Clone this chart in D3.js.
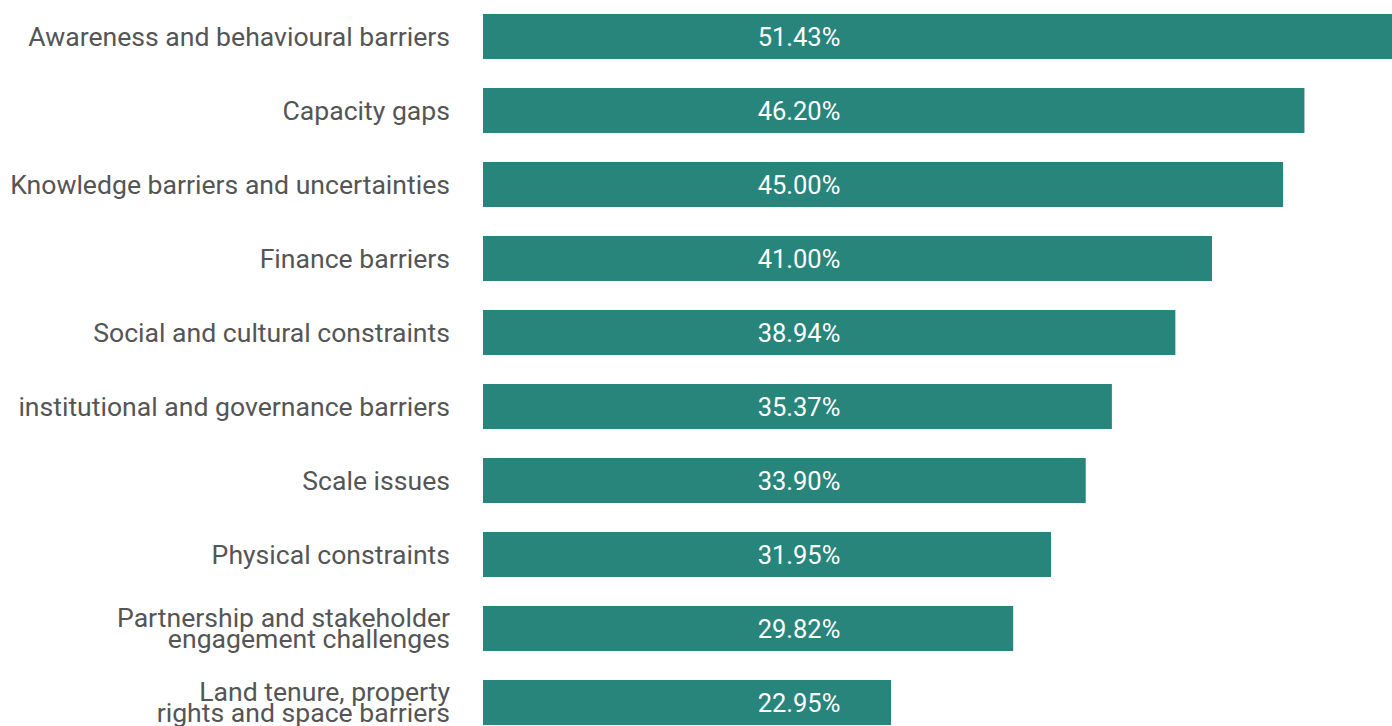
<!DOCTYPE html>
<html>
<head>
<meta charset="utf-8">
<script src="https://cdn.jsdelivr.net/npm/d3@7"></script>
<style>
  html, body { margin: 0; padding: 0; background: #fff; overflow: hidden; }
  svg { display: block; font-family: Roboto, "Noto Sans", sans-serif; }
</style>
</head>
<body>
<svg id="chart" width="1392" height="726"></svg>
<script>
// Share of respondents reporting each barrier type
const categories = [
  "Awareness and behavioural barriers",
  "Capacity gaps",
  "Knowledge barriers and uncertainties",
  "Finance barriers",
  "Social and cultural constraints",
  "institutional and governance barriers",
  "Scale issues",
  "Physical constraints",
  "Partnership and stakeholder\nengagement challenges",
  "Land tenure, property\nrights and space barriers"
];
const values = [51.43, 46.20, 45.00, 41.00, 38.94, 35.37, 33.90, 31.95, 29.82, 22.95];

const width = 1392, height = 726;
const svg = d3.select("#chart");

const x = d3.scaleLinear().domain([0, 50]).range([483, 1372]);
const y = d3.scaleBand()
  .domain(categories)
  .range([-0.5, 739.5])
  .paddingInner(29 / 74)
  .paddingOuter(29 / 148);

const rows = categories.map((c, i) => ({ cat: c, value: values[i] }));

// Bars
svg.append("g")
  .selectAll("rect")
  .data(rows)
  .join("rect")
  .attr("x", x(0))
  .attr("y", d => y(d.cat))
  .attr("width", d => x(d.value) - x(0))
  .attr("height", y.bandwidth())
  .attr("fill", "#27857b");

// Value labels, centred in a fixed column over the bars
svg.append("g")
  .selectAll("text")
  .data(rows)
  .join("text")
  .attr("x", 799)
  .attr("y", d => y(d.cat) + y.bandwidth() / 2 + 9.2)
  .attr("text-anchor", "middle")
  .attr("fill", "#ffffff")
  .attr("font-size", 25.5)
  .text(d => d.value.toFixed(2) + "%");

// Category labels, right-aligned, wrapped where needed
const labels = svg.append("g")
  .selectAll("text")
  .data(rows)
  .join("text")
  .attr("x", 450)
  .attr("y", d => y(d.cat) + y.bandwidth() / 2 + 9.2)
  .attr("text-anchor", "end")
  .attr("fill", "#555555")
  .attr("font-size", 26.6);

labels.each(function(d) {
  const lines = d.cat.split("\n");
  const lh = 21.3;
  const t = d3.select(this);
  lines.forEach((ln, j) => {
    t.append("tspan")
      .attr("x", 450)
      .attr("dy", j === 0 ? -(lines.length - 1) * lh / 2 : lh)
      .text(ln);
  });
});
</script>
</body>
</html>
